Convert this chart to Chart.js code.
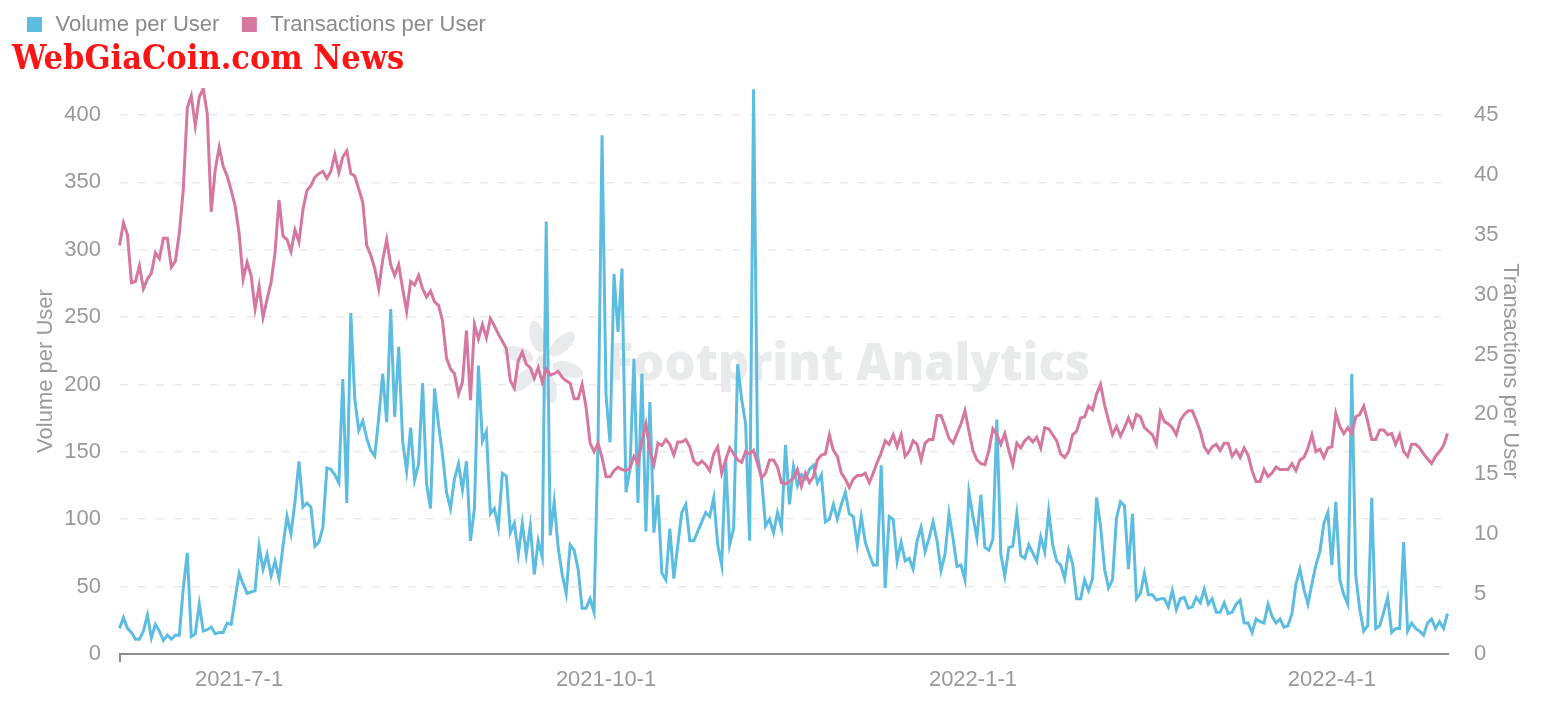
<!DOCTYPE html>
<html lang="en">
<head>
    <meta charset="UTF-8">
    <title>Volume and Transactions per User</title>
    <script src="https://cdn.jsdelivr.net/npm/chart.js"></script>
    <style>
        html, body { margin: 0; padding: 0; background: #fff; }
        .chart-container { position: relative; width: 1541px; height: 709px; }
    </style>
</head>
<body>
    <div class="chart-container">
        <canvas id="chart"></canvas>
    </div>

    <script>
        // one point per day, starting 2021-06-01
        const startDate = [2021, 5, 1];
        const tickLabels = ['2021-7-1', '2021-10-1', '2022-1-1', '2022-4-1'];

        const volumePerUser = [
            19, 27, 19, 16, 11, 11, 17, 29, 12, 22,
            17, 10, 14, 11, 14, 14, 49, 75, 13, 15,
            37, 17, 18, 20, 15, 16, 16, 23, 22, 41,
            60, 52, 45, 46, 47, 80, 63, 74, 58, 69,
            56, 80, 102, 89, 113, 143, 109, 112, 109, 80,
            83, 94, 138, 137, 133, 127, 204, 112, 253, 189,
            166, 173, 160, 151, 147, 175, 208, 172, 256, 176,
            228, 158, 136, 168, 129, 141, 201, 126, 108, 197,
            170, 148, 120, 108, 130, 141, 122, 143, 84, 108,
            214, 158, 165, 104, 108, 94, 134, 132, 90, 97,
            74, 97, 74, 95, 59, 84, 72, 321, 88, 113,
            79, 59, 45, 81, 77, 63, 34, 34, 41, 31,
            158, 385, 192, 157, 282, 239, 286, 120, 137, 219,
            112, 208, 91, 187, 90, 118, 60, 55, 93, 56,
            81, 105, 111, 84, 84, 91, 98, 105, 102, 116,
            81, 66, 144, 81, 93, 215, 189, 171, 84, 419,
            147, 130, 95, 100, 90, 105, 94, 155, 111, 139,
            125, 133, 130, 137, 140, 127, 133, 98, 100, 111,
            100, 111, 120, 104, 102, 81, 102, 83, 74, 66,
            66, 140, 49, 102, 100, 69, 83, 69, 71, 63,
            84, 94, 76, 86, 98, 84, 62, 74, 104, 86,
            65, 66, 55, 120, 102, 86, 118, 79, 77, 85,
            174, 74, 58, 79, 80, 104, 73, 71, 81, 75,
            69, 87, 76, 106, 81, 69, 66, 56, 77, 67,
            41, 41, 55, 47, 56, 116, 95, 63, 49, 55,
            101, 113, 110, 63, 104, 41, 45, 60, 44, 44,
            40, 41, 41, 35, 47, 33, 41, 42, 34, 35,
            42, 38, 48, 37, 41, 31, 31, 38, 30, 31,
            37, 40, 23, 23, 16, 26, 24, 23, 37, 28,
            23, 26, 20, 21, 30, 52, 63, 48, 37, 52,
            66, 76, 97, 105, 66, 113, 55, 44, 37, 208,
            58, 33, 17, 21, 116, 19, 21, 31, 42, 16,
            19, 19, 83, 17, 23, 19, 17, 14, 23, 26,
            19, 24, 19, 30
        ];

        const txPerUser = [
            34.1, 36.0, 35.0, 31.0, 31.1, 32.4, 30.5, 31.3, 31.8, 33.5,
            33.0, 34.7, 34.7, 32.3, 32.8, 35.1, 38.8, 45.6, 46.6, 44.1,
            46.5, 47.2, 45.1, 36.9, 40.4, 42.3, 40.7, 39.9, 38.7, 37.4,
            35.1, 31.3, 32.7, 31.6, 28.8, 30.7, 28.1, 29.6, 31.0, 33.5,
            37.9, 34.9, 34.6, 33.6, 35.4, 34.4, 37.1, 38.7, 39.1, 39.8,
            40.1, 40.3, 39.7, 40.3, 41.7, 40.2, 41.5, 42.0, 40.1, 39.9,
            38.8, 37.7, 34.1, 33.3, 32.2, 30.5, 32.9, 34.6, 32.5, 31.6,
            32.5, 30.5, 28.6, 31.1, 30.8, 31.6, 30.5, 29.8, 30.3, 29.4,
            29.1, 27.8, 24.7, 23.8, 23.4, 21.7, 22.7, 27.0, 21.2, 27.5,
            26.3, 27.5, 26.4, 28.0, 27.4, 26.7, 26.1, 25.5, 22.8, 22.2,
            24.5, 25.2, 24.2, 23.9, 23.0, 23.9, 22.7, 23.8, 23.3, 23.4,
            23.6, 23.1, 22.8, 22.6, 21.3, 21.3, 22.5, 20.6, 17.6, 16.9,
            17.6, 16.4, 14.8, 14.8, 15.3, 15.6, 15.4, 15.3, 15.5, 16.5,
            15.9, 17.8, 19.2, 16.9, 15.8, 17.6, 17.4, 17.9, 17.5, 16.6,
            17.7, 17.7, 17.9, 17.3, 16.1, 15.8, 16.1, 15.8, 15.3, 16.7,
            17.3, 15.1, 16.2, 17.2, 16.7, 16.2, 16.0, 16.9, 16.7, 17.0,
            15.9, 14.7, 15.1, 16.2, 16.2, 15.6, 14.3, 14.2, 14.4, 14.7,
            15.4, 14.0, 15.1, 14.3, 14.8, 16.2, 16.6, 16.7, 18.3, 17.0,
            16.5, 15.1, 14.6, 13.9, 14.6, 14.9, 14.9, 15.1, 14.3, 15.1,
            16.0, 16.8, 17.8, 17.5, 18.3, 17.3, 18.3, 16.5, 16.9, 17.8,
            17.5, 16.2, 17.6, 17.9, 17.9, 19.9, 19.9, 19.0, 18.0, 17.6,
            18.4, 19.2, 20.3, 18.6, 17.0, 16.2, 15.9, 15.8, 17.0, 18.8,
            18.3, 17.5, 18.4, 17.0, 15.8, 17.6, 17.2, 17.8, 18.1, 17.7,
            18.1, 17.2, 18.9, 18.8, 18.3, 17.8, 16.7, 16.4, 16.9, 18.3,
            18.6, 19.7, 19.8, 20.7, 20.4, 21.7, 22.5, 20.8, 19.5, 18.3,
            19.0, 18.2, 18.9, 19.7, 18.9, 20.0, 19.8, 18.9, 18.6, 18.3,
            17.5, 20.2, 19.4, 19.2, 18.9, 18.3, 19.5, 20.0, 20.3, 20.3,
            19.5, 18.6, 17.3, 16.8, 17.3, 17.5, 17.0, 17.6, 17.6, 16.5,
            17.0, 16.4, 17.2, 16.6, 15.3, 14.4, 14.4, 15.4, 14.8, 15.1,
            15.6, 15.4, 15.4, 15.4, 15.9, 15.3, 16.2, 16.4, 17.2, 18.3,
            16.9, 17.1, 16.4, 17.2, 17.3, 20.1, 19.0, 18.4, 18.9, 18.4,
            19.8, 20.0, 20.7, 19.4, 17.9, 17.9, 18.7, 18.7, 18.3, 18.4,
            17.5, 18.3, 16.9, 16.5, 17.5, 17.5, 17.2, 16.7, 16.3, 15.9,
            16.5, 16.9, 17.4, 18.4
        ];

        const dates = [];
        for (let i = 0; i < volumePerUser.length; i++) {
            const d = new Date(Date.UTC(startDate[0], startDate[1], startDate[2] + i));
            dates.push(`${d.getUTCFullYear()}-${d.getUTCMonth() + 1}-${d.getUTCDate()}`);
        }

        const axisGrey = '#999999';
        const lastIndex = dates.length - 1;

        // faint "Footprint Analytics" mark behind the lines
        const watermark = {
            id: 'watermark',
            beforeDatasetsDraw(chart) {
                const ctx = chart.ctx;
                ctx.save();
                ctx.fillStyle = '#e9eaec';
                const cx = 543, cy = 362;
                for (let k = 0; k < 6; k++) {
                    const a = k * Math.PI / 3 + 0.3;
                    ctx.beginPath();
                    ctx.ellipse(cx + 26 * Math.cos(a), cy + 26 * Math.sin(a), 16, 7.5, a, 0, Math.PI * 2);
                    ctx.fill();
                }
                ctx.beginPath();
                ctx.arc(cx, cy, 7, 0, Math.PI * 2);
                ctx.fill();

                ctx.font = '800 52px "Open Sans"';
                ctx.textBaseline = 'alphabetic';
                const text = 'Footprint Analytics';
                const w = ctx.measureText(text).width;
                ctx.translate(607, 380);
                ctx.scale(483 / w, 1);
                ctx.fillText(text, 0, 0);
                ctx.restore();
            }
        };

        // move the red banner title a little to the right
        const nudgeTitle = {
            id: 'nudgeTitle',
            afterLayout(chart) {
                if (chart.titleBlock) chart.titleBlock.left = 12;
            }
        };

        Chart.defaults.font.family = '"Liberation Sans", Arial, sans-serif';
        Chart.defaults.font.size = 22;

        const ctx = document.getElementById('chart').getContext('2d');
        const chart = new Chart(ctx, {
            type: 'line',
            data: {
                labels: dates,
                datasets: [{
                    label: 'Volume per User',
                    data: volumePerUser,
                    yAxisID: 'y',
                    borderColor: '#5dbde0',
                    backgroundColor: '#5dbde0',
                    borderWidth: 3,
                    pointRadius: 0,
                    pointStyle: 'rect',
                    tension: 0,
                    order: 2
                }, {
                    label: 'Transactions per User',
                    data: txPerUser,
                    yAxisID: 'y1',
                    borderColor: '#d5779f',
                    backgroundColor: '#d5779f',
                    borderWidth: 3,
                    pointRadius: 0,
                    pointStyle: 'rect',
                    tension: 0,
                    order: 1
                }]
            },
            options: {
                responsive: true,
                maintainAspectRatio: false,
                animation: false,
                layout: {
                    padding: { top: -6.5, left: 4.5, right: 5, bottom: 0 }
                },
                scales: {
                    x: {
                        afterFit: (scale) => { scale.height = 55; },
                        grid: {
                            drawOnChartArea: false,
                            tickLength: 8,
                            lineWidth: 2,
                            color: (c) => (c.index === 0 || c.index === lastIndex) ? '#8c8c8c' : 'rgba(0,0,0,0)'
                        },
                        border: { display: true, color: '#8c8c8c', width: 2 },
                        ticks: {
                            autoSkip: false,
                            maxRotation: 0,
                            padding: 5,
                            color: axisGrey,
                            callback: function (value, index) {
                                const lab = this.getLabelForValue(value);
                                if (tickLabels.includes(lab)) return lab;
                                if (index === 0 || index === lastIndex) return '';
                                return null;
                            }
                        }
                    },
                    y: {
                        position: 'left',
                        min: 0,
                        max: 420,
                        afterFit: (scale) => { scale.width = 115; },
                        ticks: { stepSize: 50, includeBounds: false, padding: 18.5, color: axisGrey },
                        grid: { color: '#ebebeb', lineWidth: 1.5, drawTicks: false },
                        border: { display: false, dash: [8, 10] },
                        title: {
                            display: true,
                            text: 'Volume per User',
                            color: axisGrey,
                            padding: { top: 27.8, bottom: 0 }
                        }
                    },
                    y1: {
                        position: 'right',
                        min: 0,
                        max: 47.25,
                        afterFit: (scale) => { scale.width = 88.5; },
                        ticks: { stepSize: 5, includeBounds: false, padding: 18.5, color: axisGrey },
                        grid: { display: false },
                        border: { display: false },
                        title: {
                            display: true,
                            text: 'Transactions per User',
                            color: axisGrey,
                            padding: { top: 12.8, bottom: 0 }
                        }
                    }
                },
                plugins: {
                    legend: {
                        position: 'top',
                        align: 'start',
                        labels: {
                            usePointStyle: true,
                            boxWidth: 20,
                            boxHeight: 12,
                            padding: 20,
                            color: '#8a8a8a',
                            sort: (a, b) => a.datasetIndex - b.datasetIndex
                        }
                    },
                    title: {
                        display: true,
                        text: 'WebGiaCoin.com News',
                        align: 'start',
                        color: '#fd1515',
                        weight: 500,
                        font: { family: '"DejaVu Serif Condensed", "DejaVu Serif", serif', size: 34, weight: 'bold', lineHeight: 1 },
                        padding: { top: -2, bottom: 10.5 }
                    },
                    tooltip: { enabled: false }
                }
            },
            plugins: [watermark, nudgeTitle]
        });
    </script>
</body>
</html>
